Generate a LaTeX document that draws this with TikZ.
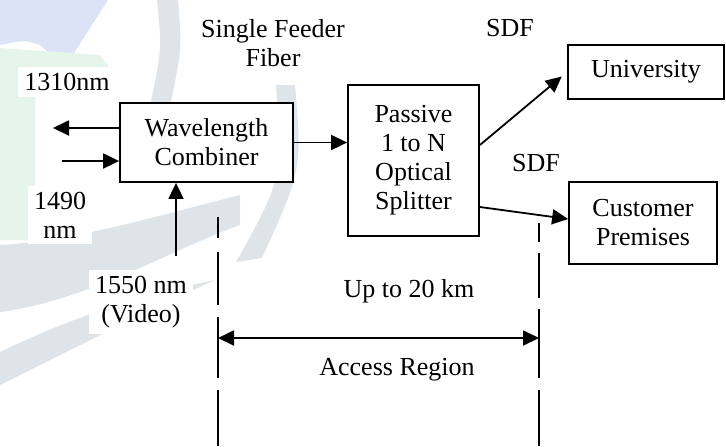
\documentclass[tikz,border=0pt]{standalone}
\usepackage{fontspec}
\setmainfont{Liberation Serif}
\usepackage{xcolor}
\usepackage{tikz}
\usetikzlibrary{arrows.meta,positioning,calc}

\definecolor{wmblue}{HTML}{DDE3F6}
\definecolor{wmgreen}{HTML}{E6F5EC}
\definecolor{wmgray}{HTML}{DFE4E9}

\begin{document}
\begin{tikzpicture}[x=0.5pt,y=-0.5pt,
    box/.style={draw,fill=white,line width=0.9pt,align=center,inner sep=0pt,
      font=\fontsize{13}{14.5}\selectfont},
    lbl/.style={align=center,inner sep=3pt,fill=white,
      font=\fontsize{13}{14.5}\selectfont},
    arr/.style={line width=0.9pt,-{Triangle[length=8pt,width=7.5pt]}},
    dim/.style={line width=0.9pt,{Triangle[length=8pt,width=7.5pt]}-{Triangle[length=8pt,width=7.5pt]}}]
  \useasboundingbox (0,0) rectangle (726,446);

  % faint background logo
  \fill[wmblue] (0,0) -- (108,0) -- (65,67) -- (40,45) .. controls (25,40) .. (0,45) -- cycle;
  \fill[wmgreen] (0,48) -- (100,55) -- (110,68) -- (35,70) -- (35,240) -- (0,240) -- cycle;
  \fill[wmgray] (157,0) -- (178,0) .. controls (182,50) .. (168,115) -- (148,115) .. controls (162,50) .. cycle;
  \fill[wmgray] (276,85) -- (295,85) .. controls (302,170) .. (262,258) -- (236,262) .. controls (282,180) .. cycle;
  \fill[wmgray] (0,245) .. controls (80,240) and (160,215) .. (240,195) -- (240,225)
    .. controls (170,250) and (90,300) .. (0,312) -- cycle;
  \fill[wmgray] (0,352) .. controls (70,318) and (140,295) .. (215,280)
    .. controls (150,310) and (70,350) .. (0,385) -- cycle;

  % blocks
  \node[box,minimum width=86.5pt,minimum height=39.5pt] (comb) at (206.5,142.5) {Wavelength\\Combiner};
  \node[box,minimum width=65.5pt,minimum height=75.5pt] (split) at (413.5,160.5) {Passive\\1 to N\\Optical\\Splitter};
  \node[box,minimum width=78pt,minimum height=27pt] (univ) at (646,72) {University};
  \node[box,minimum width=74pt,minimum height=41pt] (cust) at (643,223) {Customer\\Premises};

  % labels
  \node[lbl] (feeder) at (273,43) {Single Feeder\\Fiber};
  \node[lbl] (up) at (67,82) {1310nm};
  \node[lbl] (down) at (60,215) {1490\\nm};
  \node[lbl] (video) at (141,302) {1550 nm\\(Video)};
  \node[lbl] (sdfa) at (510,28) {SDF};
  \node[lbl] (sdfb) at (536,163) {SDF};
  \node[lbl] (dist) at (409,291) {Up to 20 km};
  \node[lbl] (region) at (397,370) {Access Region};

  % wavelengths in and out
  \coordinate (out1310) at (53,128);
  \coordinate (in1490) at (62,161);
  \coordinate (in1550) at (176,256);
  \draw[arr] (comb.west |- out1310) -- (out1310);
  \draw[arr] (in1490) -- (in1490 -| comb.west);
  \draw[arr] (in1550) -- (in1550 |- comb.south);

  % feeder and drops
  \draw[arr] (comb.east) -- (comb.east -| split.west);
  \draw[arr,shorten >=3.5pt] ([yshift=7.75pt]split.east) -- (univ.west);
  \draw[arr] ([yshift=-23.25pt]split.east) -- ([yshift=2pt]cust.west);

  % access region markers
  \coordinate (accL) at (218,217);
  \coordinate (accR) at (539,223);
  \draw[line width=0.9pt,dash pattern=on 10.5pt off 7pt on 26.5pt off 6pt on 30.5pt off 6pt on 40pt]
    (accL) -- (accL |- 0,446);
  \draw[line width=0.9pt,dash pattern=on 9.5pt off 5.5pt on 22.5pt off 5.5pt on 34.5pt off 6pt on 40pt]
    (accR) -- (accR |- 0,446);
  \draw[dim] (accL |- 0,338) -- (accR |- 0,338);
\end{tikzpicture}
\end{document}
